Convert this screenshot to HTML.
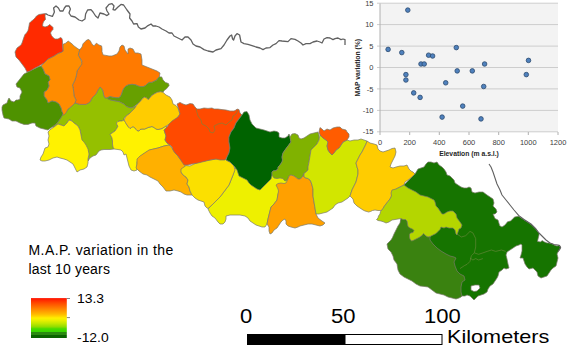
<!DOCTYPE html>
<html><head><meta charset="utf-8"><style>
html,body{margin:0;padding:0;background:#fff;}
body{width:567px;height:350px;overflow:hidden;position:relative;font-family:"Liberation Sans",sans-serif;}
svg{position:absolute;left:0;top:0;}
.tk{font-family:"Liberation Sans",sans-serif;font-size:7.5px;fill:#404040;}
.ax{font-family:"Liberation Sans",sans-serif;font-size:6.8px;font-weight:bold;fill:#262626;}
.t{position:absolute;white-space:nowrap;color:#000;transform-origin:0 0;}
.sx{transform:scaleX(1.07);}
.sx2{transform:scaleX(1.1);}
.sx3{transform:scaleX(1.14);}
</style></head><body>
<svg width="567" height="350" viewBox="0 0 567 350">
<defs>
<linearGradient id="lg" x1="0" y1="0" x2="0" y2="1">
<stop offset="0" stop-color="#ff1000"/>
<stop offset="0.05" stop-color="#ff2800"/>
<stop offset="0.12" stop-color="#ff4800"/>
<stop offset="0.2" stop-color="#ff6800"/>
<stop offset="0.3" stop-color="#ff9000"/>
<stop offset="0.4" stop-color="#ffb800"/>
<stop offset="0.46" stop-color="#ffd800"/>
<stop offset="0.5" stop-color="#fff000"/>
<stop offset="0.56" stop-color="#e8f000"/>
<stop offset="0.64" stop-color="#c0e800"/>
<stop offset="0.72" stop-color="#90dc00"/>
<stop offset="0.77" stop-color="#48dc00"/>
<stop offset="0.84" stop-color="#38d800"/>
<stop offset="0.845" stop-color="#2a8a10"/>
<stop offset="0.92" stop-color="#2a8a10"/>
<stop offset="0.925" stop-color="#0a6400"/>
<stop offset="1" stop-color="#0a6400"/>
</linearGradient>
</defs>
<polygon points="52,127 55,125 58,122 60,119 63,113 66,112 68,109 72,106 75,103 80,104.4 86,104.4 90,102 92,98 96,94 98,90 100,87 102,89 103,91 103.7,95 105,98 107.4,97.8 110,99.7 112,100.3 116,101 119,101.5 121.6,102.8 124,104 126,106 128.4,107.1 131,108 136,106 135,108 132,111 129,114 126,116 124,118 124,120 122,121 120,121 118,121.5 116.5,123 117,125 118,126 117,128 115,131 112,133 110,134.5 111,136 112,138 112.5,141 112.5,144 113,147 114,149 110,149.5 107,149.5 104,149.5 101,150 99,151 97.5,153 96,155 93,156 90,158 88,161 89,155 88.5,153 87.5,150 86,147 84,144 82,142.5 80,142 81,135 80,130 78,126 74,123 71,120 69,120 67,123 64,126 61,125 58,124 54,127" fill="#95c000" stroke="#7a7a6a" stroke-width="0.7" stroke-linejoin="round"/>
<polygon points="79.9,49.6 82,47 83,43.8 85.2,41.6 86.7,40 88.9,39.5 90.4,41.1 91.5,43.2 92.6,44.8 94.2,45.9 95.7,43.8 96.8,43.2 98.4,44.8 101.6,45.9 102,48.5 102,51.7 103.1,54.9 106,55.4 109,56 112,56 117,54 119,51 120,47 122,45 124,46 125,50 128,54 128,49 130,48 133,49 135,53 138,53 141,54 142,60 142,65 147,67 152,69 157,71 160,73 159.3,76.9 158,78.1 156.8,80 154.3,81.2 151.9,82.4 149.4,82.4 147.5,83.6 145.7,85.5 143.2,86.7 140.7,86.7 138.3,86.1 135.8,84.9 132.1,84.3 128.4,84.9 125.9,86.1 124.1,88 122.8,90.4 121.6,94.1 120.4,96.6 118.5,97.8 116,97.8 112.3,97.2 109.9,96.6 107.4,97.8 104.9,97.8 103.7,94.8 103.1,91 101.9,88.6 100,87 98,90 96,94 92,98 90,102 86,104.4 80,104.4 75,103 76,100 74,96 73.5,90 72.5,85 75,80 76.5,75 77,71 79,68 81,64 82,61 79.9,58 78.3,55.4 78.8,52.2" fill="#ff7a00" stroke="#7a7a6a" stroke-width="0.7" stroke-linejoin="round"/>
<polygon points="63,44.3 65.6,43.2 68.2,41.1 69.8,42.2 71.9,43.8 74,45.9 76.2,47.5 78.3,49 79.9,49.6 78.8,52.2 78.3,55.4 79.9,58 81.5,61.2 82,64 79,68 77,71 76.5,75 75,80 72.5,85 73.5,90 74,96 76,100 75,103 72,106 68,109 66,113 64,115 63,115 62,112 61,108 59,104 56,102 52,101 48,103 47,100 44,96 44,92 47,90 49,86 48,82 50,80 49,76 45,74 43,69 41,66 44,63 48,59 54,56 58.2,53.3 61.3,52.2 63,51.2" fill="#ff8c00" stroke="#7a7a6a" stroke-width="0.7" stroke-linejoin="round"/>
<polygon points="28,72 32,70 38,67 41,66 43,69 45,74 49,76 50,80 48,82 49,86 47,90 44,92 44,96 47,100 48,103 52,101 56,102 59,104 61,108 62,112 63,113 62,116 60,119 58,122 55,125 52,127 48,130 44,129 40,128 36,126 35,123 32,123 28,124.4 24,124.4 20,123 16,121 12,121 9,119 4,118 3,115 2,110 2,107 3,105 7,103 8,100 9,98 11,101 14,102 16,100 18,100 20,99 20,96 22,92 20,88 17,87 16,84 20,79 24,74" fill="#4e9200" stroke="#7a7a6a" stroke-width="0.7" stroke-linejoin="round"/>
<polygon points="45.5,13.5 45,16 45.5,19.5 44,21 43,23 42.5,26 45,27 48,26 49.5,24.5 51,25.5 53,27.5 53,29.5 51.5,31 50.5,33 51.5,35.5 53,37.5 55,39 58,39 60.5,37.5 62,38.5 62.5,41 62.5,45 63,51.2 61.3,52.2 58.2,53.3 54,56 48,59 44,63 39,66 35,68 30,71 27,72 25,68 22,64 19,60 16,57 15,52 17,48 21,45 22,43 23,40 24,37 25,34.5 26.5,33 28,30.5 28.5,28.5 29,26 29.5,23 31,21.5 33,20 35,18 36.5,16 39,14.5 42,14" fill="#ff2a00" stroke="#7a7a6a" stroke-width="0.7" stroke-linejoin="round"/>
<polygon points="159.3,76.9 161.7,76.9 163,80 165.4,82.4 168.5,83.6 169.1,85.5 166.7,88.6 164.2,90.4 163,92.3 160.5,91.7 157.4,92.3 154.9,93.5 151.9,95.4 150,97.8 148.1,99.7 146.3,97.8 144.4,97.2 142.6,98.5 140.7,100.9 138.3,103.4 135.8,105.2 133.3,107.1 130.9,107.7 128.4,107.1 125.9,105.9 124.1,104 121.6,102.8 119.1,101.5 116,100.9 112.3,100.3 109.9,99.7 108,99.1 107.4,97.8 109.9,96.6 112.3,97.2 116,97.8 118.5,97.8 120.4,96.6 121.6,94.1 122.8,90.4 124.1,88 125.9,86.1 128.4,84.9 132.1,84.3 135.8,84.9 138.3,86.1 140.7,86.7 143.2,86.7 145.7,85.5 147.5,83.6 149.4,82.4 151.9,82.4 154.3,81.2 156.8,80 158,78.1" fill="#67a000" stroke="#7a7a6a" stroke-width="0.7" stroke-linejoin="round"/>
<polygon points="48,132 51,129 54,127 58,124 61,125 64,126 67,123 69,120 72,121 74,123 78,126 80,130 81,135 82,140 84,142 86,145 88,149 89,154 88,159 88,163 87,167 84,169 80,170 77,172 75,168 73,164 70,162 67,160 64,159 60,158 57,157 53,158 49,160 45,161 42,161 40,160 41,157 43,154 44,151 45,148 48,147 49,144 48,140 49,136" fill="#fff200" stroke="#7a7a6a" stroke-width="0.7" stroke-linejoin="round"/>
<polygon points="124,120 125.5,122.5 127,125 128.5,127 130,128.5 131.5,127.5 133,126.5 135,128 137,130.5 139,131 140,129.5 142,129 144.5,129 146,128.5 148,127.5 150,127 152,126.5 154,127.5 156,129 158,129.5 160,129 162,128.5 166,126 167,127 164,130 165,133 166,136 165,140 167,143 170,145 164,146 158,148 150,150 146,152.5 142,155 139,158 137,162 137,166 137,170 134,171 131,170 129,166 128,162 127,158 126,154 124,155 123,152 121,150 118,149.5 114,149 113,147 112.5,144 112.5,141 112,138 111,136 110,134.5 112,133 115,131 117,128 118,126 117,125 116.5,123 118,121.5 120,121 122,121" fill="#fff200" stroke="#7a7a6a" stroke-width="0.7" stroke-linejoin="round"/>
<polygon points="136,106 138.3,103.4 140.7,100.9 142.6,98.5 144.4,97.2 146.3,97.8 148.1,99.7 150,97.8 151.9,95.4 154.9,93.5 157.4,92.3 160.5,91.7 163,92.3 166,95 170,97 172,100 173,104 176,105.5 178,108 179,111 180,114 178,117 174,121 170,124 166,126 162,128.5 160,129 158,129.5 156,129 154,127.5 152,126.5 150,127 148,127.5 146,128.5 144.5,129 142,129 140,129.5 139,131 137,130.5 135,128 133,126.5 131.5,127.5 130,128.5 128.5,127 127,125 125.5,122.5 124,120 126,116 129,114 132,111 135,108" fill="#ffcc00" stroke="#7a7a6a" stroke-width="0.7" stroke-linejoin="round"/>
<polygon points="137,159 140,156 143,154 146,152 149,150 158,148 164,146 169,145 172,148 175,153 178,156 180,159 183,162 186,164 184,168 181,172 183,175 186,177 188,180 187,184 189,187 190,191 192,195 190,195 187,195 184,194 181,192 178,191 174,190 170,191 166,191 163,187 160,184 158,181 154,179 150,177 147,175 143,174 139,171 136,168 137,164" fill="#ffb000" stroke="#7a7a6a" stroke-width="0.7" stroke-linejoin="round"/>
<polygon points="235,168 245,170 262,175 270,170 285,172 290,176 288,184 280,190 278,194 277,200 274,204 271,207 270,211 269,215 268,219 267,224 265,227 262,227 259,226 256,225 253,223 250,221 248,218 245,216 240,215 235,215 230,215 226,216 226,219 225,222 223,224 220,224 218,222 215,218 212,216 210,213 208,209 212,205 216,201 220,197 223,193 226,189 229,185 231,180 233,175" fill="#eef000" stroke="#7a7a6a" stroke-width="0.7" stroke-linejoin="round"/>
<polygon points="181,169 184,167 186,165.5 190,166 194,164 199,162 204,161 210,160 216,159 222,158 225,157 226,160 230,162 234,166 235,170 233,175 231,180 229,185 226,189 223,193 220,197 216,201 212,205 208,208.5 207,208 205,206 204,202 201,201 198,200 195,198 192,195 190,191 189,187 187,184 188,180 186,177 183,175 181,172" fill="#fbe000" stroke="#7a7a6a" stroke-width="0.7" stroke-linejoin="round"/>
<polygon points="177,104 180,102.4 183,104 186,105 190,103.6 193,104 195,107 197,109 200,109 204,108 208,108.4 212,108 214,109 218,109 222,109.6 226,110 230,111 234,111 236,110 237,109 239,109.6 240,113 242,115 239,119 236,123 234,128 231,132 229,137 229,142 230,148 229,153 227,157 225,160 220,160 216,159 210,160 206,161 202,162 198,163 192,164 188,165 184,165 182,162 180,159 178,156 175,153 173,150 172,147 170,145 167,143 165,140 166,136 165,133 164,130 167,127 169,124 172,121 175,119 178,117 180,114 179,110 178,107" fill="#ff4a00" stroke="#7a7a6a" stroke-width="0.7" stroke-linejoin="round"/>
<polygon points="242,115 244,112 247,111.6 249,115 250,120 252,124 256,128 260,129 264,130 267,131 270,132 274,131 277,131.6 279,133 279,137 282,138 285,138 288,136 289,134 290,137 291,142 288,146 285,150 283,153 282,157 282.5,160 282,162 280,165 278,167 278,169 276,170.5 273,171 272,172 272,175 271,179 268,182 265,185 263,187 260,190 257,189 254,187 251,185 249,183 247,180 243,178 239,176 237,170 234,166 230,162 226,160 227,157 229,153 230,148 229,142 229,137 231,132 234,128 236,123 239,119" fill="#006300" stroke="#7a7a6a" stroke-width="0.7" stroke-linejoin="round"/>
<polygon points="290,137 292,134 295,133.6 298,135 299,138 301,139 304,138 307,136 310,134 314,133 318,132 319,135 319,140 317,144 314,147 311,150 310,156 309,162 308,167 308,170 306,172 304,173.5 303,176 302,177.5 300,179 298,179 296,177.5 294,176 291,175 289,176 287.5,180 285,181 284,180 283,178.5 280,178 277,178.5 274,178 272,175 272,172 273,171 276,170.5 278,169 278,167 280,165 282,162 282.5,160 282,157 283,153 285,150 288,146 291,142" fill="#80b200" stroke="#7a7a6a" stroke-width="0.7" stroke-linejoin="round"/>
<polygon points="276,185 278,183.5 281,183 284,183.5 286,183 287.5,180 289,176 291,175 294,176 296,177.5 298,179 300,179 302,177.5 303,176 304,173.5 304,177 306,178 308,178.5 310,180 311,182 312,185 313,189 313,196 314,202 315,208 316,214 318,218 322,221 325,223 323,225 320,226 316,225 312,224 308,224 304,225 300,226 298,227 295,228 291,227 288,226 286,224 286,221 285,219 283,220 281,222 279,225 277,228 274,230 272,233 270,234 269,231 269,227 267,224 268,219 269,215 270,211 271,207 274,204 277,200 278,194 278.5,191 278,189 277,187" fill="#ffa000" stroke="#7a7a6a" stroke-width="0.7" stroke-linejoin="round"/>
<polygon points="320,135 323,138 326,140 328,142 327,146 328,150 330,153 332,155 334,153 336,150 339,148 341,145 343,142 347,140 350,141 354,140 358,140 361,139 364,140 367,141 366,144 364,148 362,152 360,155 358,159 356,163 357,167 358,170 358,174 357,178 356,182 352,190 351,193 350,196 348,198 345,200 342,202 338,203 335,205 333,208 330,210 327,212 323,213 319,214 316,214 315,208 314,202 313,196 313,189 312,185 311,182 310,180 308,178.5 306,178 304,177 304,173.5 306,172 308,170 308,167 309,162 310,156 311,150 314,147 317,144 319,140" fill="#d2e600" stroke="#7a7a6a" stroke-width="0.7" stroke-linejoin="round"/>
<polygon points="319,132 320,127.6 322,129 324,131 327,129 330,130 333,128 337,127 340,127 342,129 346,130 347,132 349,134 349,137 347,140 343,142 341,145 339,148 336,150 334,153 332,155 330,153 328,150 327,146 328,142 326,140 323,138 320,135" fill="#ff5c00" stroke="#7a7a6a" stroke-width="0.7" stroke-linejoin="round"/>
<polygon points="367,141 370,143 374,144 377,145 378,149 380,151 383,152 386,151 389,150 392,148.5 395,148 396,152 395,156 393,160 391,164 390,167 393,168 396,167 400,166 404,166 407,165 409,169 411,171 413,172 415,174 412,177 408,180 405,182 404,185 400,187 396,189 392,192 391.5,196 390,199 388,201.5 386,204 384.5,206 383,208.5 381.5,210.5 378,210.5 375,210 372.5,210.5 370.5,211.5 368.5,212 367,211.5 365,211 363,210 360,208 357,206 354,203 353,199 350,196 351,193 352,190 356,182 357,178 358,174 358,170 357,167 356,163 358,159 360,155 362,152 364,148 366,144" fill="#ffcc00" stroke="#7a7a6a" stroke-width="0.7" stroke-linejoin="round"/>
<polygon points="415,174 418,169 421,168 424,167 426,164 428,162 431,162 434,163 437,162 439,165 442,167 444,169 446,172 447,175 450,176 452,178 454,180 455,183 458,185 461,187 464,188 467,188 469,187 471,188 472,192 475,193 479,192 483,192 487,195 490,197 493,199 494,203 493,206 496,209 497,212 495,214 493,214 495,218.6 498,220 499.7,225.7 502,227 505,225 507.6,221.7 510.7,221 513,218.6 514.7,217 518.6,216.2 524,219.8 531,224.3 536,229.3 539,233.3 539,235 538,239 537.5,241.4 540.6,242 542,240.6 544.5,242 547,243 549,243 552,243.7 554.7,245.3 557,246 559.5,245.3 560.5,247.7 560,249 558,252 557,254 558,258 557,262 556,266 553,268 551,270 549,273 547,276 544,277 541,278 538,276 537,272 535,270 533,268 529,269 527,267 525,264 524,261 523,258 520,258 521,255 522,251 522,245 521,244 519,245 516,246 513,248 510,250 507,252 506,255 507,259 508,264 509,268 506,269 504,268 502,270 499,272 498,276 497,278 495,281 493,284 490,286 488,289 487,292 484,294 481,295 478,296 476,298 474,300 472,298 470,296 467,295 465,296 462,296 440,292 400,262 400,230 404,185" fill="#167400" stroke="#7a7a6a" stroke-width="0.7" stroke-linejoin="round"/>
<polygon points="401,218.5 405,215 415,222 425,228 432,232 430,237 430,240 433,244 437,248 441,251 446,254 450,256 454,257 456,258 454,262 455,266 457,271 460,274 464,276 465,280 462,282 461,287 461,292 462,296 461,297 459,298 456,299 452,298 448,297 444,295 440,294 436,293 432,290 428,287 424,286.4 420,286 416,284 412,281 408,279 404,277 400,274 398,270 397,264 394,260 393,256 391,252 388,249 387,244 389,242 391,240 392.5,237.5 394,234 396,230 398,226 400,223" fill="#3a8210" stroke="#7a7a6a" stroke-width="0.7" stroke-linejoin="round"/>
<polygon points="404,185 408,188 412,190 416,192 420,195 424,196 428,197 432,199 434,200 435,202 436,206 438,208 440,211 442,214 444,214 447,212 450,211 453,211 456,214 457,218 460,222 462,225 461,228 459,229 458,232 457,235 456,234 455,230 453,228 449,228 446,227 444,228 441,227 440,229.5 438,231.5 436,233.5 434,234.5 432,235.5 430,236.5 428,237 426,236 424.5,234.5 423.5,233.5 422,235.5 419,237.5 416,239 413,240.5 411.5,241 410,239 409.5,237 409.5,234.5 410.5,233 413,232.5 414,230.5 412.5,229 410,228 408,226.5 407.5,224 407,221 405.5,219.5 403,219.5 401,218.5 398,219 395,219.5 392,220 389,222 386,223 384,222 381,221 378,220.5 376.5,219.5 378,218 378.5,216 380,214 380.5,211.5 381.5,210.5 383,208.5 384.5,206 386,204 388,201.5 390,199 391.5,196 391,193 392,190 396,189 400,187" fill="#b4d600" stroke="#7a7a6a" stroke-width="0.7" stroke-linejoin="round"/>
<polygon points="471,286 475,285 479,285 480,288 477,291 474,291.6 471,290" fill="#ffffff" stroke="#7a7a6a" stroke-width="0.7" stroke-linejoin="round"/>
<polyline points="196,109 198,116 201,120 202,124 206,126 209,129 210,132 213,133 215,130 214,126 218,124 222,123 226,125 229,122 232,120 233,116 236,114 238,110" fill="none" stroke="#6f8a40" stroke-width="0.6"/>
<polyline points="457,234 461.4,237 465.7,235.7 470,231.4 472.9,232.9 475.7,238.6 475.7,247 474.3,252.9 471.4,255.7 470,261.4 467.1,264.3 464.3,265.7 460,268.6" fill="none" stroke="#6f8a40" stroke-width="0.6"/>
<polyline points="474.3,252.9 478.6,254.3 482.9,252.9 487.1,251.4 491.4,250 495.7,251.4 501.4,250 505.7,251.4" fill="none" stroke="#6f8a40" stroke-width="0.6"/>
<polyline points="470,258 472.9,260 475.7,258.6 478.6,260 482.9,258.6" fill="none" stroke="#6f8a40" stroke-width="0.6"/>
<polyline points="45.6,13.6 48,15 52.4,16.4 54.4,12 53.6,8 56,6 58.4,8 60,11 63,11 64.4,8 66,6 69,6 70.4,9 69,13 71,16 75,17 79,20 82,21 85,19 85.6,14 87.6,10 91,9.6 93,12 95.6,16 98,18 100,13 104,14 107,15.6 109,14 107,11 106,8 109,4.4 112,3.6 114,6 113,9.6 115,10 118,7 121,4.4 123.6,5 127,10 130,14 129.6,18 132,21 133.6,24 137,23.6 138.4,27 141,29 145,28 148,25.6 151,24 153,26 156,26 159,27 162,29 166,31 169,33 172,33 174,36 178,38 182,40 185,37 188,37 191,40 193,44 196,46 200,47 204,49.6 208,51 213,52 216,50 221,48.6 224,45 227,40 230,36 231.6,35 232.6,39 233.6,40 235,36 237,33.6 239.6,35 241,42 244,43.6 248,44.4 252,45.6 256,47 260,48 263,49.6 266,48 270,47.6 273,45 276,43.6 279,40.6 282,41 288,41.6 291,38.6 295,39.4 298,41 301,43 303,45 306,43.6 310,43.6 313,42 317,41 320,42 322,43 324,39 327,37.6 330,38 333,39.6 335,38.6 338,38 341,39.6 343,39 345,39.6 345,45" fill="none" stroke="#606060" stroke-width="1.3" stroke-linejoin="round"/>
<polyline points="489,164 491,167 493,172 495,178 497,184 500,190 502,195 506,200 510,205 514,210 518.6,215.4 524,219.5 531,224 536,229 539,233 542,236 546,240 550,243 554,244.5 558,245 559.5,245.6 560.6,247.4 559.6,249.4 558,251.5" fill="none" stroke="#606060" stroke-width="1.1" stroke-linejoin="round"/>
<rect x="380" y="3.5" width="178" height="128.5" fill="#f3f3f3"/>
<line x1="377" y1="3.2" x2="558" y2="3.2" stroke="#cdcdcd" stroke-width="1"/>
<line x1="377" y1="24.6" x2="558" y2="24.6" stroke="#cdcdcd" stroke-width="1"/>
<line x1="377" y1="46.1" x2="558" y2="46.1" stroke="#cdcdcd" stroke-width="1"/>
<line x1="377" y1="67.5" x2="558" y2="67.5" stroke="#cdcdcd" stroke-width="1"/>
<line x1="377" y1="88.9" x2="558" y2="88.9" stroke="#cdcdcd" stroke-width="1"/>
<line x1="377" y1="110.4" x2="558" y2="110.4" stroke="#cdcdcd" stroke-width="1"/>
<line x1="377" y1="131.8" x2="558" y2="131.8" stroke="#cdcdcd" stroke-width="1"/>
<line x1="380" y1="3.5" x2="380" y2="132" stroke="#b0b0b0" stroke-width="1"/>
<line x1="380.0" y1="132" x2="380.0" y2="135" stroke="#b0b0b0" stroke-width="1"/>
<line x1="409.7" y1="132" x2="409.7" y2="135" stroke="#b0b0b0" stroke-width="1"/>
<line x1="439.3" y1="132" x2="439.3" y2="135" stroke="#b0b0b0" stroke-width="1"/>
<line x1="469.0" y1="132" x2="469.0" y2="135" stroke="#b0b0b0" stroke-width="1"/>
<line x1="498.7" y1="132" x2="498.7" y2="135" stroke="#b0b0b0" stroke-width="1"/>
<line x1="528.3" y1="132" x2="528.3" y2="135" stroke="#b0b0b0" stroke-width="1"/>
<line x1="558.0" y1="132" x2="558.0" y2="135" stroke="#b0b0b0" stroke-width="1"/>
<text x="373.5" y="5.8" text-anchor="end" class="tk">15</text>
<text x="373.5" y="27.2" text-anchor="end" class="tk">10</text>
<text x="373.5" y="48.7" text-anchor="end" class="tk">5</text>
<text x="373.5" y="70.1" text-anchor="end" class="tk">0</text>
<text x="373.5" y="91.5" text-anchor="end" class="tk">-5</text>
<text x="373.5" y="113.0" text-anchor="end" class="tk">-10</text>
<text x="373.5" y="134.4" text-anchor="end" class="tk">-15</text>
<text x="380.0" y="144.8" text-anchor="middle" class="tk">0</text>
<text x="409.7" y="144.8" text-anchor="middle" class="tk">200</text>
<text x="439.3" y="144.8" text-anchor="middle" class="tk">400</text>
<text x="469.0" y="144.8" text-anchor="middle" class="tk">600</text>
<text x="498.7" y="144.8" text-anchor="middle" class="tk">800</text>
<text x="528.3" y="144.8" text-anchor="middle" class="tk">1000</text>
<text x="558.0" y="144.8" text-anchor="middle" class="tk">1200</text>
<text x="469" y="155.8" text-anchor="middle" class="ax">Elevation (m a.s.l.)</text>
<text transform="translate(359.6,67.7) rotate(-90)" text-anchor="middle" class="ax">MAP variation (%)</text>
<circle cx="407.8" cy="10.1" r="2.3" fill="#4f81bd" stroke="#2c4a6e" stroke-width="0.8"/>
<circle cx="388.1" cy="49.4" r="2.3" fill="#4f81bd" stroke="#2c4a6e" stroke-width="0.8"/>
<circle cx="401.8" cy="52.6" r="2.3" fill="#4f81bd" stroke="#2c4a6e" stroke-width="0.8"/>
<circle cx="428.6" cy="55.2" r="2.3" fill="#4f81bd" stroke="#2c4a6e" stroke-width="0.8"/>
<circle cx="432.6" cy="56" r="2.3" fill="#4f81bd" stroke="#2c4a6e" stroke-width="0.8"/>
<circle cx="456.3" cy="47.6" r="2.3" fill="#4f81bd" stroke="#2c4a6e" stroke-width="0.8"/>
<circle cx="421" cy="64" r="2.3" fill="#4f81bd" stroke="#2c4a6e" stroke-width="0.8"/>
<circle cx="424.2" cy="64" r="2.3" fill="#4f81bd" stroke="#2c4a6e" stroke-width="0.8"/>
<circle cx="405.9" cy="74.6" r="2.3" fill="#4f81bd" stroke="#2c4a6e" stroke-width="0.8"/>
<circle cx="405.9" cy="80" r="2.3" fill="#4f81bd" stroke="#2c4a6e" stroke-width="0.8"/>
<circle cx="457.2" cy="70.9" r="2.3" fill="#4f81bd" stroke="#2c4a6e" stroke-width="0.8"/>
<circle cx="472.3" cy="70.9" r="2.3" fill="#4f81bd" stroke="#2c4a6e" stroke-width="0.8"/>
<circle cx="484.6" cy="64" r="2.3" fill="#4f81bd" stroke="#2c4a6e" stroke-width="0.8"/>
<circle cx="528.5" cy="60.4" r="2.3" fill="#4f81bd" stroke="#2c4a6e" stroke-width="0.8"/>
<circle cx="526.3" cy="74.6" r="2.3" fill="#4f81bd" stroke="#2c4a6e" stroke-width="0.8"/>
<circle cx="483.7" cy="86.5" r="2.3" fill="#4f81bd" stroke="#2c4a6e" stroke-width="0.8"/>
<circle cx="445.7" cy="82.8" r="2.3" fill="#4f81bd" stroke="#2c4a6e" stroke-width="0.8"/>
<circle cx="413.7" cy="92.9" r="2.3" fill="#4f81bd" stroke="#2c4a6e" stroke-width="0.8"/>
<circle cx="420.1" cy="97.4" r="2.3" fill="#4f81bd" stroke="#2c4a6e" stroke-width="0.8"/>
<circle cx="462.7" cy="106.1" r="2.3" fill="#4f81bd" stroke="#2c4a6e" stroke-width="0.8"/>
<circle cx="442.1" cy="117.1" r="2.3" fill="#4f81bd" stroke="#2c4a6e" stroke-width="0.8"/>
<circle cx="481" cy="118.9" r="2.3" fill="#4f81bd" stroke="#2c4a6e" stroke-width="0.8"/>
<rect x="31" y="298.1" width="35.8" height="39.9" fill="url(#lg)"/>
<line x1="66.8" y1="298.5" x2="70" y2="298.5" stroke="#666" stroke-width="0.8"/>
<line x1="66.8" y1="317.6" x2="70" y2="317.6" stroke="#666" stroke-width="0.8"/>
<rect x="247" y="334" width="98" height="11" fill="#000"/>
<rect x="345" y="334.5" width="97" height="10" fill="#fff" stroke="#000" stroke-width="1"/>
</svg>
<div class="t" style="left:28.5px;top:241.5px;font-size:14px;letter-spacing:0.44px;">M.A.P. variation in the</div>
<div class="t" style="left:28.5px;top:260.5px;font-size:14px;letter-spacing:0.17px;">last 10 years</div>
<div class="t sx" style="left:76.5px;top:291px;font-size:13px;">13.3</div>
<div class="t sx" style="left:76.5px;top:330px;font-size:13px;">-12.0</div>
<div class="t sx2" style="left:240px;top:305px;font-size:20px;">0</div>
<div class="t sx2" style="left:331px;top:305px;font-size:20px;">50</div>
<div class="t sx2" style="left:423.5px;top:305px;font-size:20px;">100</div>
<div class="t sx3" style="left:447px;top:326px;font-size:19px;">Kilometers</div>
</body></html>
